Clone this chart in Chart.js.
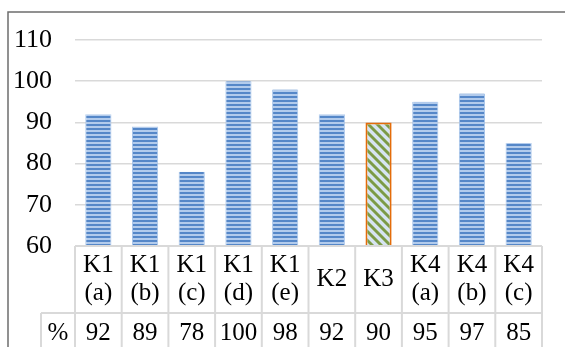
<!DOCTYPE html>
<html>
<head>
<meta charset="utf-8">
<script src="https://cdn.jsdelivr.net/npm/chart.js@4/dist/chart.umd.min.js"></script>
<style>
  html, body { margin: 0; padding: 0; background: #ffffff; }
  #wrap { width: 565px; height: 347px; position: relative; }
</style>
</head>
<body>
<div id="wrap"><canvas id="c" width="565" height="347"></canvas></div>
<script>
// Categories (two-line headers in the data table)
const categories = [
  ['K1', '(a)'], ['K1', '(b)'], ['K1', '(c)'], ['K1', '(d)'], ['K1', '(e)'],
  ['K2'], ['K3'],
  ['K4', '(a)'], ['K4', '(b)'], ['K4', '(c)']
];
// Percentage per category
const percentValues = [92, 89, 78, 100, 98, 92, 90, 95, 97, 85];
const rowLabel = '%';
// Index of the highlighted category (K3)
const highlightIndex = 6;
// Value axis range
const yMin = 60, yMax = 110, yStep = 10;

const SERIF = "'Liberation Serif', 'Times New Roman', serif";

// Horizontal-stripe fill for the ordinary bars
function stripePattern() {
  const c = document.createElement('canvas');
  c.width = 4; c.height = 4;
  const g = c.getContext('2d');
  g.fillStyle = '#5587c8'; g.fillRect(0, 0, 4, 2);
  g.fillStyle = '#b2cbec'; g.fillRect(0, 2, 4, 2);
  return g.createPattern(c, 'repeat');
}
// Diagonal green hatch for the highlighted bar
function hatchPattern() {
  const n = 9;
  const c = document.createElement('canvas');
  c.width = n; c.height = n;
  const g = c.getContext('2d');
  for (let x = 0; x < n; x++) {
    for (let y = 0; y < n; y++) {
      const k = ((x - y) % n + n) % n;
      g.fillStyle = k < 3 ? '#7b9a48' : (k === 3 || k === 8) ? '#a8c08e' : '#d6e4f3';
      g.fillRect(x, y, 1, 1);
    }
  }
  return g.createPattern(c, 'repeat');
}

const stripes = stripePattern();
const hatch = hatchPattern();

// Frame lines around the chart object
const framePlugin = {
  id: 'frame',
  beforeDraw(chart) {
    const ctx = chart.ctx;
    ctx.save();
    ctx.strokeStyle = '#6e6e6e';
    ctx.lineWidth = 1.5;
    ctx.beginPath();
    ctx.moveTo(8, 347); ctx.lineTo(8, 12); ctx.lineTo(565, 12);
    ctx.stroke();
    ctx.restore();
  }
};

// Data table drawn beneath the plot, aligned to the category scale
const tablePlugin = {
  id: 'dataTable',
  afterDraw(chart) {
    const ctx = chart.ctx;
    const xs = chart.scales.x;
    const area = chart.chartArea;
    const n = categories.length;
    const colW = xs.getPixelForValue(1) - xs.getPixelForValue(0);
    const left = xs.getPixelForValue(0) - colW / 2;
    const right = xs.getPixelForValue(n - 1) + colW / 2;
    const top = area.bottom;
    const rowDiv = top + 67;
    const bottom = chart.height + 2;
    const labelLeft = left - 34;

    ctx.save();
    ctx.strokeStyle = '#d9d9d9';
    ctx.lineWidth = 2;
    ctx.beginPath();
    ctx.moveTo(left, top); ctx.lineTo(right, top);
    ctx.moveTo(labelLeft, rowDiv); ctx.lineTo(right, rowDiv);
    for (let i = 0; i <= n; i++) {
      const x = left + i * colW;
      ctx.moveTo(x, top); ctx.lineTo(x, bottom);
    }
    ctx.moveTo(labelLeft, rowDiv); ctx.lineTo(labelLeft, bottom);
    ctx.stroke();

    ctx.fillStyle = '#000000';
    ctx.textAlign = 'center';
    ctx.textBaseline = 'middle';
    const headMid = (top + rowDiv) / 2;
    const lineH = 28;
    ctx.font = '25px ' + SERIF;
    categories.forEach((lines, i) => {
      const cx = xs.getPixelForValue(i);
      const y0 = headMid - (lines.length - 1) * lineH / 2;
      lines.forEach((t, j) => ctx.fillText(t, cx, y0 + j * lineH));
    });
    const valY = rowDiv + 20;
    ctx.font = '25px ' + SERIF;
    percentValues.forEach((v, i) => ctx.fillText(String(v), xs.getPixelForValue(i), valY));
    ctx.fillText(rowLabel, (labelLeft + left) / 2, valY);
    ctx.restore();
  }
};

new Chart(document.getElementById('c'), {
  type: 'bar',
  data: {
    labels: categories,
    datasets: [{
      data: percentValues,
      backgroundColor: percentValues.map((_, i) => i === highlightIndex ? hatch : stripes),
      borderColor: percentValues.map((_, i) => i === highlightIndex ? '#e46c0a' : 'rgba(160,192,232,0.9)'),
      borderWidth: percentValues.map((_, i) => i === highlightIndex ? 2 : { left: 1, right: 1, top: 0, bottom: 0 }),
      borderSkipped: 'bottom',
      categoryPercentage: 1.0,
      barPercentage: 0.56
    }]
  },
  options: {
    responsive: false,
    devicePixelRatio: 1,
    animation: false,
    layout: { padding: { left: 0, right: 23, top: 40, bottom: 101 } },
    plugins: { legend: { display: false }, tooltip: { enabled: false } },
    scales: {
      x: { display: false },
      y: {
        min: yMin, max: yMax,
        ticks: {
          stepSize: yStep,
          padding: 23,
          color: '#000000',
          font: { family: SERIF, size: 26 }
        },
        grid: { color: '#d9d9d9', lineWidth: 1.5, drawTicks: false },
        border: { display: false },
        afterFit(scale) { scale.width = 75; }
      }
    }
  },
  plugins: [framePlugin, tablePlugin]
});
</script>
</body>
</html>
